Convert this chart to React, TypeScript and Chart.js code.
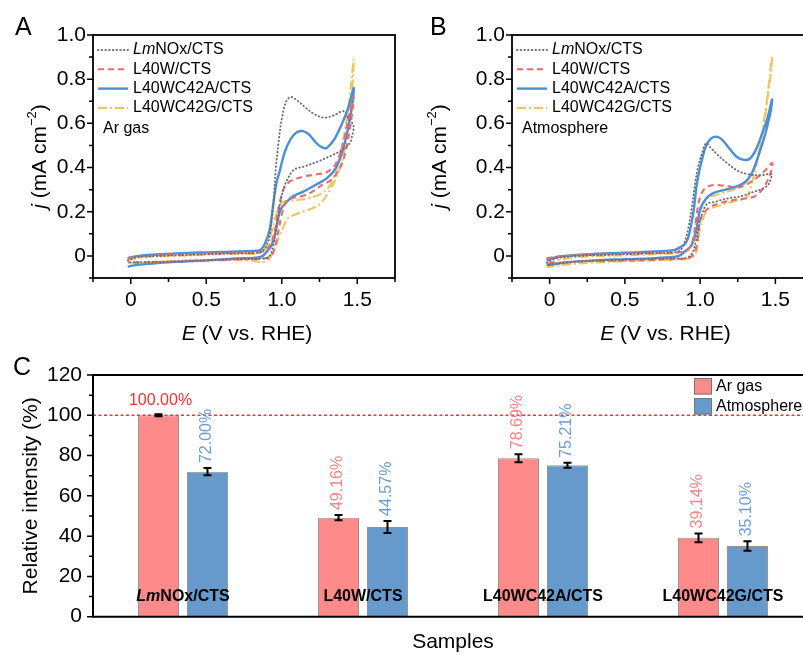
import React, { useEffect, useRef } from 'react';
import { Chart, registerables } from 'chart.js';

Chart.register(...registerables);

const FONT = '"Liberation Sans", Arial, Helvetica, sans-serif';

// ---------------- Panels A / B : CV curves (E in V vs. RHE, j in mA cm^-2) ----------------
const seriesNames = ['LmNOx/CTS', 'L40W/CTS', 'L40WC42A/CTS', 'L40WC42G/CTS'];

const argonLmNOx: [number, number][] = [
  [-0.02, -0.02], [0.05, -0.005], [0.2, 0.0], [0.4, 0.005], [0.6, 0.01], [0.8, 0.013], [0.87, 0.02],
  [0.9, 0.05], [0.92, 0.09], [0.945, 0.24], [0.96, 0.39], [0.98, 0.52], [1.0, 0.62], [1.03, 0.7],
  [1.06, 0.72], [1.1, 0.705], [1.16, 0.67], [1.22, 0.64], [1.28, 0.626], [1.34, 0.635], [1.41, 0.655],
  [1.445, 0.62], [1.475, 0.59], [1.465, 0.54], [1.45, 0.51], [1.4, 0.48], [1.33, 0.455], [1.25, 0.43],
  [1.15, 0.405], [1.08, 0.39], [1.04, 0.35], [1.01, 0.3], [0.99, 0.24], [0.97, 0.15], [0.945, 0.05],
  [0.92, 0.0], [0.88, -0.012], [0.7, -0.015], [0.5, -0.02], [0.3, -0.025], [0.1, -0.028], [-0.02, -0.03],
];
const argonL40W: [number, number][] = [
  [-0.02, -0.01], [0.1, 0.0], [0.3, 0.005], [0.5, 0.01], [0.7, 0.013], [0.85, 0.016], [0.9, 0.03],
  [0.93, 0.06], [0.956, 0.12], [0.975, 0.2], [0.99, 0.25], [1.01, 0.3], [1.05, 0.335], [1.1, 0.35],
  [1.15, 0.36], [1.22, 0.368], [1.3, 0.38], [1.36, 0.42], [1.41, 0.52], [1.44, 0.62], [1.475, 0.72],
  [1.465, 0.64], [1.43, 0.495], [1.4, 0.42], [1.366, 0.376], [1.32, 0.34], [1.275, 0.325], [1.2, 0.29],
  [1.13, 0.27], [1.07, 0.262], [1.03, 0.245], [1.0, 0.19], [0.98, 0.12], [0.956, 0.04], [0.93, 0.0],
  [0.88, -0.012], [0.7, -0.015], [0.5, -0.02], [0.3, -0.025], [0.1, -0.03], [-0.02, -0.03],
];
const argonL40WC42A: [number, number][] = [
  [-0.02, -0.01], [0.05, 0.0], [0.2, 0.008], [0.4, 0.014], [0.6, 0.018], [0.8, 0.022], [0.86, 0.028],
  [0.89, 0.058], [0.92, 0.12], [0.945, 0.24], [0.965, 0.33], [0.985, 0.38], [1.02, 0.47], [1.06, 0.53],
  [1.1, 0.56], [1.14, 0.565], [1.18, 0.55], [1.23, 0.51], [1.27, 0.49], [1.3, 0.49], [1.35, 0.53],
  [1.4, 0.6], [1.44, 0.67], [1.476, 0.76], [1.47, 0.7], [1.44, 0.58], [1.4, 0.47], [1.36, 0.4],
  [1.3, 0.352], [1.22, 0.32], [1.14, 0.29], [1.07, 0.268], [1.02, 0.235], [0.99, 0.208], [0.97, 0.15],
  [0.956, 0.1], [0.93, 0.045], [0.9, 0.018], [0.86, -0.005], [0.7, -0.012], [0.5, -0.02], [0.3, -0.027],
  [0.1, -0.037], [0.0, -0.045], [-0.02, -0.05],
];
const argonL40WC42G: [number, number][] = [
  [-0.02, -0.02], [0.1, -0.005], [0.3, 0.0], [0.5, 0.005], [0.7, 0.01], [0.85, 0.012], [0.9, 0.04],
  [0.93, 0.1], [0.96, 0.18], [0.985, 0.23], [1.01, 0.245], [1.06, 0.25], [1.13, 0.255], [1.2, 0.265],
  [1.27, 0.285], [1.32, 0.32], [1.36, 0.39], [1.4, 0.5], [1.43, 0.62], [1.455, 0.75], [1.476, 0.89],
  [1.465, 0.74], [1.44, 0.6], [1.41, 0.46], [1.37, 0.37], [1.32, 0.3], [1.26, 0.24], [1.2, 0.215],
  [1.14, 0.2], [1.08, 0.185], [1.04, 0.17], [1.01, 0.13], [0.99, 0.1], [0.96, 0.05], [0.94, 0.015],
  [0.92, -0.01], [0.89, -0.025], [0.86, -0.028], [0.8, -0.02], [0.6, -0.02], [0.4, -0.02], [0.2, -0.025],
  [0.0, -0.03], [-0.02, -0.02],
];

const airLmNOx: [number, number][] = [
  [-0.02, -0.03], [0.05, -0.01], [0.2, 0.0], [0.4, 0.005], [0.6, 0.01], [0.8, 0.015], [0.86, 0.022],
  [0.89, 0.05], [0.92, 0.12], [0.945, 0.22], [0.965, 0.32], [0.985, 0.4], [1.01, 0.46], [1.04, 0.51],
  [1.07, 0.49], [1.12, 0.455], [1.18, 0.42], [1.25, 0.385], [1.32, 0.37], [1.4, 0.365], [1.45, 0.37],
  [1.475, 0.37], [1.47, 0.35], [1.45, 0.32], [1.4, 0.3], [1.356, 0.29], [1.27, 0.27], [1.18, 0.26],
  [1.1, 0.245], [1.046, 0.235], [1.013, 0.19], [0.99, 0.13], [0.97, 0.06], [0.945, 0.01], [0.91, -0.008],
  [0.8, -0.012], [0.6, -0.015], [0.4, -0.02], [0.2, -0.025], [0.05, -0.035], [-0.02, -0.04],
];
const airL40W: [number, number][] = [
  [-0.02, -0.01], [0.1, 0.0], [0.3, 0.005], [0.5, 0.01], [0.7, 0.013], [0.88, 0.018], [0.92, 0.03],
  [0.947, 0.06], [0.97, 0.15], [0.99, 0.24], [1.01, 0.285], [1.04, 0.31], [1.08, 0.32], [1.13, 0.32],
  [1.19, 0.315], [1.245, 0.31], [1.3, 0.32], [1.378, 0.355], [1.43, 0.385], [1.478, 0.42], [1.47, 0.38],
  [1.44, 0.33], [1.4, 0.29], [1.356, 0.268], [1.28, 0.258], [1.223, 0.253], [1.14, 0.24], [1.068, 0.223],
  [1.02, 0.19], [1.0, 0.16], [0.98, 0.06], [0.96, 0.01], [0.92, -0.01], [0.8, -0.015], [0.6, -0.02],
  [0.4, -0.022], [0.2, -0.025], [0.0, -0.03], [-0.02, -0.01],
];
const airL40WC42A: [number, number][] = [
  [-0.02, -0.02], [0.05, -0.005], [0.2, 0.005], [0.4, 0.012], [0.6, 0.017], [0.825, 0.026], [0.87, 0.04],
  [0.9, 0.055], [0.92, 0.08], [0.94, 0.14], [0.958, 0.21], [0.975, 0.31], [0.99, 0.37], [1.01, 0.43],
  [1.04, 0.5], [1.07, 0.53], [1.1, 0.54], [1.14, 0.53], [1.19, 0.49], [1.24, 0.45], [1.29, 0.435],
  [1.33, 0.44], [1.37, 0.48], [1.41, 0.55], [1.45, 0.63], [1.478, 0.708], [1.47, 0.66], [1.44, 0.57],
  [1.41, 0.5], [1.378, 0.435], [1.34, 0.37], [1.3, 0.335], [1.245, 0.315], [1.17, 0.3], [1.09, 0.285],
  [1.04, 0.26], [1.0, 0.208], [0.97, 0.1], [0.94, 0.045], [0.9, 0.022], [0.86, 0.0], [0.7, -0.01],
  [0.5, -0.015], [0.3, -0.02], [0.1, -0.03], [0.0, -0.04], [-0.02, -0.04],
];
const airL40WC42G: [number, number][] = [
  [-0.02, -0.04], [0.05, -0.02], [0.2, -0.005], [0.4, 0.0], [0.6, 0.005], [0.8, 0.01], [0.88, 0.015],
  [0.93, 0.03], [0.96, 0.09], [0.98, 0.17], [1.0, 0.22], [1.03, 0.25], [1.068, 0.268], [1.15, 0.285],
  [1.245, 0.305], [1.3, 0.33], [1.356, 0.39], [1.39, 0.47], [1.422, 0.6], [1.45, 0.74], [1.478, 0.905],
  [1.47, 0.82], [1.455, 0.753], [1.43, 0.62], [1.4, 0.495], [1.37, 0.4], [1.34, 0.32], [1.312, 0.268],
  [1.25, 0.25], [1.18, 0.24], [1.1, 0.222], [1.046, 0.208], [1.015, 0.16], [1.0, 0.13], [0.985, 0.06],
  [0.97, 0.01], [0.94, -0.01], [0.9, -0.015], [0.7, -0.02], [0.5, -0.025], [0.3, -0.03], [0.1, -0.04],
  [0.0, -0.05], [-0.02, -0.05],
];

const eMin = -0.25;
const eMax = 1.75;
const eTicks = [0, 0.5, 1.0, 1.5];
const eMinorTicks = [-0.25, 0.25, 0.75, 1.25, 1.75];
const jMin = -0.1;
const jMax = 1.0;
const jTicks = [0, 0.2, 0.4, 0.6, 0.8, 1.0];
const jMinorTicks = [-0.1, 0.1, 0.3, 0.5, 0.7, 0.9];

// ---------------- Panel C : relative intensity bars ----------------
const samples = ['LmNOx/CTS', 'L40W/CTS', 'L40WC42A/CTS', 'L40WC42G/CTS'];
const arGasIntensity = [100.0, 49.16, 78.69, 39.14];
const arGasError = [0.5, 1.3, 2.0, 2.2];
const atmosphereIntensity = [72.0, 44.57, 75.21, 35.1];
const atmosphereError = [1.8, 3.0, 1.2, 2.3];
const referenceLevel = 100;
const intensityTicks = [0, 20, 40, 60, 80, 100, 120];
const intensityMinorTicks = [10, 30, 50, 70, 90, 110];

// ---------------- styles ----------------
const seriesStyles = [
  { color: '#6f6f6f', dash: [0.5, 3.2], width: 1.9, cap: 'round' },
  { color: '#EE6A6A', dash: [6, 4], width: 2.1, cap: 'butt' },
  { color: '#4A8FD8', dash: [] as number[], width: 2.4, cap: 'butt' },
  { color: '#F1C462', dash: [9, 3, 2, 3], width: 2.1, cap: 'butt' },
];
const RED_BAR = '#FF8A8A';
const BLUE_BAR = '#6699CC';
const RED_LABEL = '#F08686';
const BLUE_LABEL = '#6E9FD2';
const REF_RED = '#EC3434';

type Seg = { t: string; i?: boolean; b?: boolean; sup?: boolean };

function segFont(s: Seg, size: number) {
  const sz = s.sup ? Math.round(size * 0.62) : size;
  return `${s.i ? 'italic ' : ''}${s.b ? 'bold ' : ''}${sz}px ${FONT}`;
}

function drawRich(
  ctx: CanvasRenderingContext2D,
  segs: Seg[],
  x: number,
  y: number,
  size: number,
  align: 'left' | 'center',
  rotate = false,
  color = '#000'
) {
  ctx.save();
  ctx.translate(x, y);
  if (rotate) ctx.rotate(-Math.PI / 2);
  ctx.textBaseline = 'middle';
  ctx.textAlign = 'left';
  ctx.fillStyle = color;
  let total = 0;
  for (const s of segs) {
    ctx.font = segFont(s, size);
    total += ctx.measureText(s.t).width;
  }
  let cx = align === 'center' ? -total / 2 : 0;
  for (const s of segs) {
    ctx.font = segFont(s, size);
    ctx.fillText(s.t, cx, s.sup ? -size * 0.36 : 0);
    cx += ctx.measureText(s.t).width;
  }
  ctx.restore();
}

function nameSegs(name: string, bold = false): Seg[] {
  if (name.startsWith('Lm')) return [{ t: 'Lm', i: true, b: bold }, { t: name.slice(2), b: bold }];
  return [{ t: name, b: bold }];
}

const cvDecorPlugin = {
  id: 'cvDecor',
  afterDraw(chart: any, _args: any, opts: any) {
    const { ctx, chartArea: ca, scales } = chart;
    const xs = scales.x;
    const ys = scales.y;
    ctx.save();
    // frame
    ctx.strokeStyle = '#000';
    ctx.lineWidth = 1.8;
    ctx.setLineDash([]);
    ctx.strokeRect(ca.left, ca.top, ca.right - ca.left, ca.bottom - ca.top);
    // ticks (outward)
    ctx.lineWidth = 1.5;
    ctx.beginPath();
    for (const v of eTicks) {
      const p = xs.getPixelForValue(v);
      ctx.moveTo(p, ca.bottom);
      ctx.lineTo(p, ca.bottom + 6);
    }
    for (const v of eMinorTicks) {
      const p = xs.getPixelForValue(v);
      ctx.moveTo(p, ca.bottom);
      ctx.lineTo(p, ca.bottom + 4);
    }
    for (const v of jTicks) {
      const p = ys.getPixelForValue(v);
      ctx.moveTo(ca.left, p);
      ctx.lineTo(ca.left - 6, p);
    }
    for (const v of jMinorTicks) {
      const p = ys.getPixelForValue(v);
      ctx.moveTo(ca.left, p);
      ctx.lineTo(ca.left - 4, p);
    }
    ctx.stroke();

    // legend
    const lx = ca.left + 5;
    const ly0 = ca.top + 15;
    chart.data.datasets.forEach((ds: any, k: number) => {
      const y = ly0 + k * 19.3;
      ctx.save();
      ctx.strokeStyle = ds.borderColor;
      ctx.lineWidth = ds.borderWidth;
      ctx.setLineDash(ds.borderDash || []);
      ctx.lineCap = ds.borderCapStyle || 'butt';
      ctx.beginPath();
      ctx.moveTo(lx, y);
      ctx.lineTo(lx + 30, y);
      ctx.stroke();
      ctx.restore();
      drawRich(ctx, nameSegs(ds.label), lx + 35, y, 16, 'left');
    });
    drawRich(ctx, [{ t: opts.note }], ca.left + 10, ca.top + 94, 16, 'left');

    // axis titles
    drawRich(ctx, [{ t: 'E', i: true }, { t: ' (V vs. RHE)' }], (ca.left + ca.right) / 2 + 3, 334, 21, 'center');
    drawRich(
      ctx,
      [{ t: 'j', i: true }, { t: ' (mA cm' }, { t: '\u22122', sup: true }, { t: ')' }],
      opts.yTitleX,
      (ca.top + ca.bottom) / 2,
      21,
      'center',
      true
    );

    // panel letter
    ctx.fillStyle = '#000';
    ctx.font = `25px ${FONT}`;
    ctx.textBaseline = 'alphabetic';
    ctx.textAlign = 'left';
    ctx.fillText(opts.letter, opts.letterX, 35);
    ctx.restore();
  },
};

function fmtE(v: number) {
  return v === 0 ? '0' : Number(v).toFixed(1);
}

function makeCvChart(
  canvas: HTMLCanvasElement,
  curves: [number, number][][],
  cfg: { note: string; letter: string; letterX: number; yWidth: number; padRight: number; yTitleX: number }
) {
  return new Chart(canvas, {
    type: 'scatter',
    data: {
      datasets: curves.map((pts, k) => ({
        label: seriesNames[k],
        data: pts.map(([x, y]) => ({ x, y })),
        showLine: true,
        fill: false,
        borderColor: seriesStyles[k].color,
        borderDash: seriesStyles[k].dash,
        borderWidth: seriesStyles[k].width,
        borderCapStyle: seriesStyles[k].cap as any,
        pointRadius: 0,
        pointHoverRadius: 0,
        tension: 0.35,
      })),
    },
    options: {
      responsive: false,
      animation: false,
      devicePixelRatio: 1,
      events: [],
      layout: { padding: { top: 35, right: cfg.padRight, left: 0, bottom: 0 } },
      plugins: {
        legend: { display: false },
        tooltip: { enabled: false },
        cvDecor: cfg,
      } as any,
      scales: {
        x: {
          type: 'linear',
          min: eMin,
          max: eMax,
          grid: { display: false, drawTicks: false },
          border: { display: false },
          afterBuildTicks: (s: any) => {
            s.ticks = eTicks.map((v) => ({ value: v }));
          },
          ticks: {
            color: '#000',
            font: { size: 21, family: FONT },
            padding: 10,
            maxRotation: 0,
            autoSkip: false,
            callback: (v: any) => fmtE(Number(v)),
          },
          afterFit: (s: any) => {
            s.height = 67;
          },
        },
        y: {
          type: 'linear',
          min: jMin,
          max: jMax,
          grid: { display: false, drawTicks: false },
          border: { display: false },
          afterBuildTicks: (s: any) => {
            s.ticks = jTicks.map((v) => ({ value: v }));
          },
          ticks: {
            color: '#000',
            font: { size: 21, family: FONT },
            padding: 7,
            autoSkip: false,
            callback: (v: any) => fmtE(Number(v)),
          },
          afterFit: (s: any) => {
            s.width = cfg.yWidth;
          },
        },
      },
    } as any,
    plugins: [cvDecorPlugin as any],
  });
}

const barDecorPlugin = {
  id: 'barDecor',
  afterDatasetsDraw(chart: any) {
    const { ctx, chartArea: ca, scales } = chart;
    const ys = scales.y;
    const xs = scales.x;
    ctx.save();
    // reference line
    const yr = ys.getPixelForValue(referenceLevel);
    ctx.strokeStyle = REF_RED;
    ctx.lineWidth = 1.5;
    ctx.setLineDash([3, 2.5]);
    ctx.beginPath();
    ctx.moveTo(ca.left, yr);
    ctx.lineTo(ca.right, yr);
    ctx.stroke();
    ctx.setLineDash([]);

    const errs = [arGasError, atmosphereError];
    const labelColors = [RED_LABEL, BLUE_LABEL];
    chart.data.datasets.forEach((ds: any, d: number) => {
      const meta = chart.getDatasetMeta(d);
      meta.data.forEach((bar: any, i: number) => {
        const v = ds.data[i] as number;
        const e = errs[d][i];
        const yt = ys.getPixelForValue(v + e);
        const yb = ys.getPixelForValue(v - e);
        ctx.strokeStyle = '#000';
        ctx.lineWidth = 2;
        ctx.beginPath();
        ctx.moveTo(bar.x, yt);
        ctx.lineTo(bar.x, yb);
        ctx.moveTo(bar.x - 4, yt);
        ctx.lineTo(bar.x + 4, yt);
        ctx.moveTo(bar.x - 4, yb);
        ctx.lineTo(bar.x + 4, yb);
        ctx.stroke();
        const txt = v.toFixed(2) + '%';
        if (v >= referenceLevel) {
          drawRich(ctx, [{ t: txt }], bar.x + 2, yt - 14, 16, 'center', false, REF_RED);
        } else {
          drawRich(ctx, [{ t: txt }], bar.x - 1, yt - 5, 16, 'left', true, labelColors[d]);
        }
      });
    });

    // category labels inside the plot
    samples.forEach((s, i) => {
      drawRich(ctx, nameSegs(s, true), xs.getPixelForValue(i), ca.bottom - 20, 16, 'center');
    });
    ctx.restore();
  },
  afterDraw(chart: any) {
    const { ctx, chartArea: ca, scales } = chart;
    const ys = scales.y;
    ctx.save();
    ctx.strokeStyle = '#000';
    ctx.lineWidth = 2;
    ctx.beginPath();
    ctx.moveTo(ca.right, ca.top);
    ctx.lineTo(ca.left, ca.top);
    ctx.lineTo(ca.left, ca.bottom);
    ctx.lineTo(ca.right, ca.bottom);
    ctx.stroke();
    ctx.lineWidth = 1.5;
    ctx.beginPath();
    for (const v of intensityTicks) {
      const p = ys.getPixelForValue(v);
      ctx.moveTo(ca.left, p);
      ctx.lineTo(ca.left - 6, p);
    }
    for (const v of intensityMinorTicks) {
      const p = ys.getPixelForValue(v);
      ctx.moveTo(ca.left, p);
      ctx.lineTo(ca.left - 4, p);
    }
    ctx.stroke();

    // legend
    const bx = ca.right - 119;
    const items = chart.data.datasets;
    items.forEach((ds: any, k: number) => {
      const by = ca.top + 3 + k * 20;
      ctx.fillStyle = ds.backgroundColor;
      ctx.fillRect(bx, by, 18, 16.5);
      ctx.strokeStyle = '#777';
      ctx.lineWidth = 1;
      ctx.strokeRect(bx + 0.5, by + 0.5, 17, 15.5);
      drawRich(ctx, [{ t: ds.label }], bx + 22, by + 8.5, 16, 'left');
    });

    ctx.fillStyle = '#000';
    ctx.font = `25px ${FONT}`;
    ctx.textBaseline = 'alphabetic';
    ctx.textAlign = 'left';
    ctx.fillText('C', 13, 35);
    ctx.restore();
  },
};

function makeBarChart(canvas: HTMLCanvasElement) {
  return new Chart(canvas, {
    type: 'bar',
    data: {
      labels: samples,
      datasets: [
        {
          label: 'Ar gas',
          data: arGasIntensity,
          backgroundColor: RED_BAR,
          borderColor: 'rgba(110,110,110,0.75)',
          borderWidth: 1,
          categoryPercentage: 0.544,
          barPercentage: 0.837,
        },
        {
          label: 'Atmosphere',
          data: atmosphereIntensity,
          backgroundColor: BLUE_BAR,
          borderColor: 'rgba(110,110,110,0.75)',
          borderWidth: 1,
          categoryPercentage: 0.544,
          barPercentage: 0.837,
        },
      ],
    },
    options: {
      responsive: false,
      animation: false,
      devicePixelRatio: 1,
      events: [],
      layout: { padding: { top: 35, right: 17, left: 0, bottom: 0 } },
      plugins: { legend: { display: false }, tooltip: { enabled: false } },
      scales: {
        x: {
          grid: { display: false, drawTicks: false },
          border: { display: false },
          ticks: { display: false },
          title: {
            display: true,
            text: 'Samples',
            color: '#000',
            font: { size: 21, family: FONT },
            padding: { top: 0, bottom: 0 },
          },
          afterFit: (s: any) => {
            s.height = 38.3;
          },
        },
        y: {
          min: 0,
          max: 120,
          grid: { display: false, drawTicks: false },
          border: { display: false },
          afterBuildTicks: (s: any) => {
            s.ticks = intensityTicks.map((v) => ({ value: v }));
          },
          ticks: { color: '#000', font: { size: 21, family: FONT }, padding: 11, autoSkip: false },
          title: {
            display: true,
            text: 'Relative intensity (%)',
            color: '#000',
            font: { size: 21, family: FONT },
            padding: { top: 19, bottom: 0 },
          },
          afterFit: (s: any) => {
            s.width = 93;
          },
        },
      },
    } as any,
    plugins: [barDecorPlugin as any],
  });
}

export default function App() {
  const aRef = useRef<HTMLCanvasElement>(null);
  const bRef = useRef<HTMLCanvasElement>(null);
  const cRef = useRef<HTMLCanvasElement>(null);

  useEffect(() => {
    const charts: Chart[] = [];
    if (aRef.current)
      charts.push(
        makeCvChart(aRef.current, [argonLmNOx, argonL40W, argonL40WC42A, argonL40WC42G], {
          note: 'Ar gas',
          letter: 'A',
          letterX: 15,
          yWidth: 93,
          padRight: 5,
          yTitleX: 40,
        })
      );
    if (bRef.current)
      charts.push(
        makeCvChart(bRef.current, [airLmNOx, airL40W, airL40WC42A, airL40WC42G], {
          note: 'Atmosphere',
          letter: 'B',
          letterX: 30,
          yWidth: 112,
          padRight: 7,
          yTitleX: 40,
        })
      );
    if (cRef.current) charts.push(makeBarChart(cRef.current));
    return () => charts.forEach((c) => c.destroy());
  }, []);

  return (
    <div
      style={{
        position: 'fixed',
        left: 0,
        top: 0,
        width: 803,
        height: 655,
        overflow: 'hidden',
        background: '#fff',
      }}
    >
      <canvas ref={aRef} width={400} height={345} style={{ position: 'absolute', left: 0, top: 0 }} />
      <canvas ref={bRef} width={420} height={345} style={{ position: 'absolute', left: 400, top: 0 }} />
      <canvas ref={cRef} width={830} height={315} style={{ position: 'absolute', left: 0, top: 340 }} />
    </div>
  );
}
